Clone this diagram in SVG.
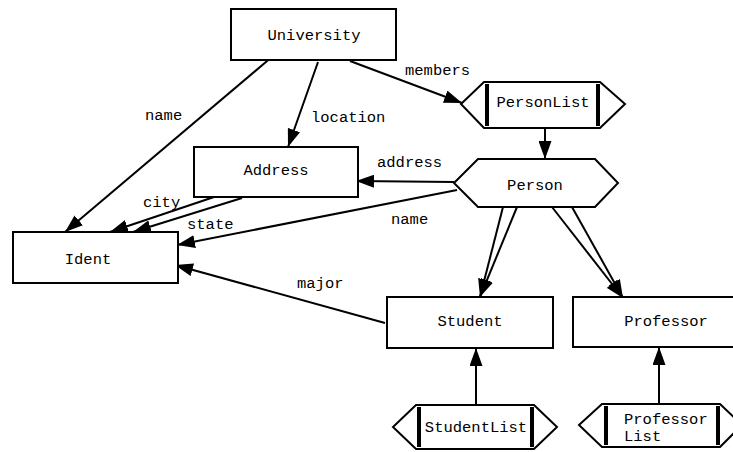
<svg xmlns="http://www.w3.org/2000/svg" width="733" height="452" viewBox="0 0 733 452">
<style>
.box{fill:#fff;stroke:#000;stroke-width:2}
.bar{stroke:#000;stroke-width:4}
.t{font-family:"Liberation Mono","DejaVu Sans Mono",monospace;font-size:15.5px;fill:#000}
.c{text-anchor:middle}
.e{fill:none;stroke:#000;stroke-width:2;marker-end:url(#ah)}
</style>
<defs>
<marker id="ah" markerUnits="userSpaceOnUse" markerWidth="19" markerHeight="13" refX="18" refY="6.5" orient="auto">
<path d="M0,0 L18,6.5 L0,13 Z" fill="#000"/>
</marker>
</defs>
<rect width="733" height="452" fill="#fff"/>
<g id="connectors">
<path class="e" d="M273,56 L65,232"/>
<path class="e" d="M318,62 L288,147"/>
<path class="e" d="M350,61 L462,103"/>
<path class="e" d="M545,128 L545,159"/>
<path class="e" d="M454,182 L356,181"/>
<path class="e" d="M457,190 L177,245"/>
<path class="e" d="M220,195 L110,232"/>
<path class="e" d="M242,198 L133,232"/>
<path class="e" d="M385,323 L175,265"/>
<path class="e" d="M503,207 L480,297"/>
<path class="e" d="M517,207 L480,297"/>
<path class="e" d="M552,207 L623,298"/>
<path class="e" d="M572,207 L623,298"/>
<path class="e" d="M476,405 L476,348"/>
<path class="e" d="M659,404 L659,347"/>
<text class="t" x="145" y="120">name</text>
<text class="t" x="311" y="122">location</text>
<text class="t" x="405" y="75">members</text>
<text class="t" x="377" y="167">address</text>
<text class="t" x="391" y="224">name</text>
<text class="t" x="143" y="207">city</text>
<text class="t" x="187" y="229">state</text>
<text class="t" x="297" y="288">major</text>
</g>
<g id="University">
<rect class="box" x="231" y="9" width="165" height="51"/>
<text class="t c" x="314" y="40">University</text>
</g>
<g id="Address">
<rect class="box" x="194" y="147" width="164" height="50"/>
<text class="t c" x="276" y="175">Address</text>
</g>
<g id="Ident">
<rect class="box" x="13" y="232" width="165" height="51"/>
<text class="t c" x="88" y="264">Ident</text>
</g>
<g id="PersonList">
<polygon class="box" points="461,104 484,82 600,82 625,104 600,128 484,128"/>
<line class="bar" x1="487" y1="84" x2="487" y2="126"/>
<line class="bar" x1="598" y1="84" x2="598" y2="126"/>
<text class="t c" x="543" y="107">PersonList</text>
</g>
<g id="Person">
<polygon class="box" points="454,183 478,159 595,159 618,183 595,207 478,207"/>
<text class="t c" x="535" y="190">Person</text>
</g>
<g id="Student">
<rect class="box" x="387" y="297" width="166" height="51"/>
<text class="t c" x="470" y="326">Student</text>
</g>
<g id="Professor">
<rect class="box" x="573" y="297" width="170" height="50"/>
<text class="t c" x="666" y="326">Professor</text>
</g>
<g id="StudentList">
<polygon class="box" points="393,427 416,405 534,405 557,427 534,449 416,449"/>
<line class="bar" x1="419" y1="407" x2="419" y2="447"/>
<line class="bar" x1="532" y1="407" x2="532" y2="447"/>
<text class="t c" x="476" y="432">StudentList</text>
</g>
<g id="ProfessorList">
<polygon class="box" points="579,425 602,404 720,404 742,425 720,447 602,447"/>
<line class="bar" x1="606" y1="406" x2="606" y2="445"/>
<line class="bar" x1="718" y1="406" x2="718" y2="445"/>
<text class="t" x="624" y="424">Professor</text>
<text class="t" x="624" y="441">List</text>
</g>
</svg>
